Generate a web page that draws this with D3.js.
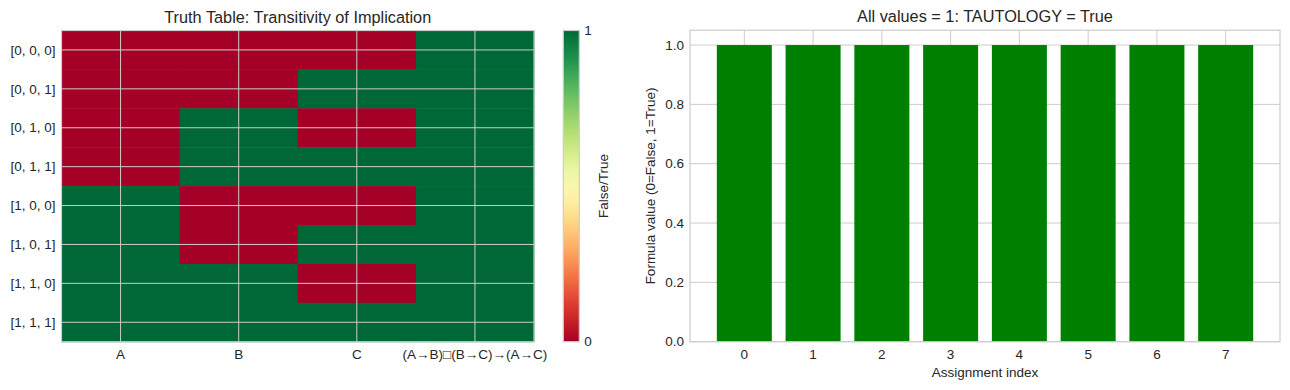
<!DOCTYPE html>
<html>
<head>
<meta charset="utf-8">
<script src="https://cdn.jsdelivr.net/npm/d3@7"></script>
<style>
  body { margin: 0; background: #fff; }
  svg text { font-family: "Liberation Sans", Arial, sans-serif; fill: #262626; }
</style>
</head>
<body>
<div id="chart"></div>
<script>
// truth table data
var rowLabels = ["[0, 0, 0]", "[0, 0, 1]", "[0, 1, 0]", "[0, 1, 1]", "[1, 0, 0]", "[1, 0, 1]", "[1, 1, 0]", "[1, 1, 1]"];
var colLabels = ["A", "B", "C", "(A\u2192B)\u25A1(B\u2192C)\u2192(A\u2192C)"];
var colA = [0, 0, 0, 0, 1, 1, 1, 1];
var colB = [0, 0, 1, 1, 0, 0, 1, 1];
var colC = [0, 1, 0, 1, 0, 1, 0, 1];
var colF = [1, 1, 1, 1, 1, 1, 1, 1];

// bar chart data
var assignIndex = [0, 1, 2, 3, 4, 5, 6, 7];
var formulaValues = [1, 1, 1, 1, 1, 1, 1, 1];
var yTicks = [0, 0.2, 0.4, 0.6, 0.8, 1.0];

var gridColor = "#cccccc";

var svg = d3.select("#chart").append("svg")
    .attr("width", 1290)
    .attr("height", 390);

// ---------- left: heatmap ----------
var hm = { left: 61.5, right: 534, top: 30.5, bottom: 341.7 };

var hx = d3.scaleBand().domain(colLabels).range([hm.left, hm.right]).padding(0);
var hy = d3.scaleBand().domain(rowLabels).range([hm.top, hm.bottom]).padding(0);
var color = d3.scaleSequential(d3.interpolateRdYlGn).domain([0, 1]);

var columns = [colA, colB, colC, colF];
var cells = [];
rowLabels.forEach(function(r, i) {
    columns.forEach(function(col, j) {
        cells.push({ row: r, col: colLabels[j], v: col[i] });
    });
});

svg.append("g").selectAll("rect")
    .data(cells)
    .enter().append("rect")
    .attr("x", function(d) { return hx(d.col); })
    .attr("y", function(d) { return hy(d.row); })
    .attr("width", hx.bandwidth() + 0.5)
    .attr("height", hy.bandwidth() + 0.5)
    .attr("fill", function(d) { return color(d.v); });

// grid over the image at the tick positions
var hg = svg.append("g");
hg.selectAll(".vg").data(colLabels).enter().append("line")
    .attr("x1", function(d) { return hx(d) + hx.bandwidth() / 2; })
    .attr("x2", function(d) { return hx(d) + hx.bandwidth() / 2; })
    .attr("y1", hm.top).attr("y2", hm.bottom)
    .attr("stroke", gridColor).attr("stroke-width", 1);
hg.selectAll(".hg").data(rowLabels).enter().append("line")
    .attr("y1", function(d) { return hy(d) + hy.bandwidth() / 2; })
    .attr("y2", function(d) { return hy(d) + hy.bandwidth() / 2; })
    .attr("x1", hm.left).attr("x2", hm.right)
    .attr("stroke", gridColor).attr("stroke-width", 1);

svg.append("rect")
    .attr("x", hm.left).attr("y", hm.top)
    .attr("width", hm.right - hm.left).attr("height", hm.bottom - hm.top)
    .attr("fill", "none").attr("stroke", gridColor).attr("stroke-width", 1.2);

svg.append("g").selectAll("text")
    .data(rowLabels)
    .enter().append("text")
    .attr("x", hm.left - 6)
    .attr("y", function(d) { return hy(d) + hy.bandwidth() / 2; })
    .attr("dy", "0.35em")
    .attr("text-anchor", "end")
    .style("font-size", "13.5px")
    .text(function(d) { return d; });

svg.append("g").selectAll("text")
    .data(colLabels)
    .enter().append("text")
    .attr("x", function(d) { return hx(d) + hx.bandwidth() / 2; })
    .attr("y", hm.bottom + 17)
    .attr("text-anchor", "middle")
    .style("font-size", "13.5px")
    .text(function(d) { return d; });

svg.append("text")
    .attr("x", (hm.left + hm.right) / 2)
    .attr("y", hm.top - 8)
    .attr("text-anchor", "middle")
    .style("font-size", "16.3px")
    .text("Truth Table: Transitivity of Implication");

// colorbar
var cb = { left: 563.3, right: 579.3 };
var cy = d3.scaleLinear().domain([0, 1]).range([hm.bottom, hm.top]);
var defs = svg.append("defs");
var grad = defs.append("linearGradient")
    .attr("id", "cbgrad")
    .attr("x1", "0").attr("y1", "1").attr("x2", "0").attr("y2", "0");
d3.range(0, 1.0001, 0.05).forEach(function(t) {
    grad.append("stop").attr("offset", t).attr("stop-color", color(t));
});
svg.append("rect")
    .attr("x", cb.left).attr("y", cy(1))
    .attr("width", cb.right - cb.left).attr("height", cy(0) - cy(1))
    .attr("fill", "url(#cbgrad)")
    .attr("stroke", gridColor).attr("stroke-width", 1.2);

svg.append("g").selectAll("text")
    .data([0, 1])
    .enter().append("text")
    .attr("x", cb.right + 5)
    .attr("y", function(d) { return cy(d); })
    .attr("dy", "0.35em")
    .style("font-size", "13.5px")
    .text(function(d) { return d; });

svg.append("text")
    .attr("transform", "translate(608," + ((hm.top + hm.bottom) / 2) + ") rotate(-90)")
    .attr("text-anchor", "middle")
    .style("font-size", "13.5px")
    .text("False/True");

// ---------- right: bar chart ----------
var bc = { left: 690, right: 1280, top: 30.2, bottom: 341.7 };

var x = d3.scaleLinear().domain([-0.79, 7.79]).range([bc.left, bc.right]);
var y = d3.scaleLinear().domain([0, 1.05]).range([bc.bottom, bc.top]);

var grid = svg.append("g");
grid.selectAll(".gx").data(assignIndex).enter().append("line")
    .attr("x1", function(d) { return x(d); }).attr("x2", function(d) { return x(d); })
    .attr("y1", bc.top).attr("y2", bc.bottom)
    .attr("stroke", gridColor).attr("stroke-width", 1);
grid.selectAll(".gy").data(yTicks).enter().append("line")
    .attr("y1", function(d) { return y(d); }).attr("y2", function(d) { return y(d); })
    .attr("x1", bc.left).attr("x2", bc.right)
    .attr("stroke", gridColor).attr("stroke-width", 1);

svg.append("g").selectAll("rect")
    .data(assignIndex)
    .enter().append("rect")
    .attr("x", function(d) { return x(d - 0.4); })
    .attr("y", function(d, i) { return y(formulaValues[i]); })
    .attr("width", x(0.8) - x(0))
    .attr("height", function(d, i) { return y(0) - y(formulaValues[i]); })
    .attr("fill", "#008000");

svg.append("rect")
    .attr("x", bc.left).attr("y", bc.top)
    .attr("width", bc.right - bc.left).attr("height", bc.bottom - bc.top)
    .attr("fill", "none").attr("stroke", gridColor).attr("stroke-width", 1.2);

svg.append("g").selectAll("text")
    .data(yTicks)
    .enter().append("text")
    .attr("x", bc.left - 6)
    .attr("y", function(d) { return y(d); })
    .attr("dy", "0.35em")
    .attr("text-anchor", "end")
    .style("font-size", "13.5px")
    .text(function(d) { return d3.format(".1f")(d); });

svg.append("g").selectAll("text")
    .data(assignIndex)
    .enter().append("text")
    .attr("x", function(d) { return x(d); })
    .attr("y", bc.bottom + 17)
    .attr("text-anchor", "middle")
    .style("font-size", "13.5px")
    .text(function(d) { return d; });

svg.append("text")
    .attr("x", (bc.left + bc.right) / 2)
    .attr("y", bc.bottom + 35)
    .attr("text-anchor", "middle")
    .style("font-size", "13.5px")
    .text("Assignment index");

svg.append("text")
    .attr("transform", "translate(655," + ((bc.top + bc.bottom) / 2) + ") rotate(-90)")
    .attr("text-anchor", "middle")
    .style("font-size", "13.5px")
    .text("Formula value (0=False, 1=True)");

svg.append("text")
    .attr("x", (bc.left + bc.right) / 2)
    .attr("y", bc.top - 8)
    .attr("text-anchor", "middle")
    .style("font-size", "16.3px")
    .text("All values = 1: TAUTOLOGY = True");
</script>
</body>
</html>
